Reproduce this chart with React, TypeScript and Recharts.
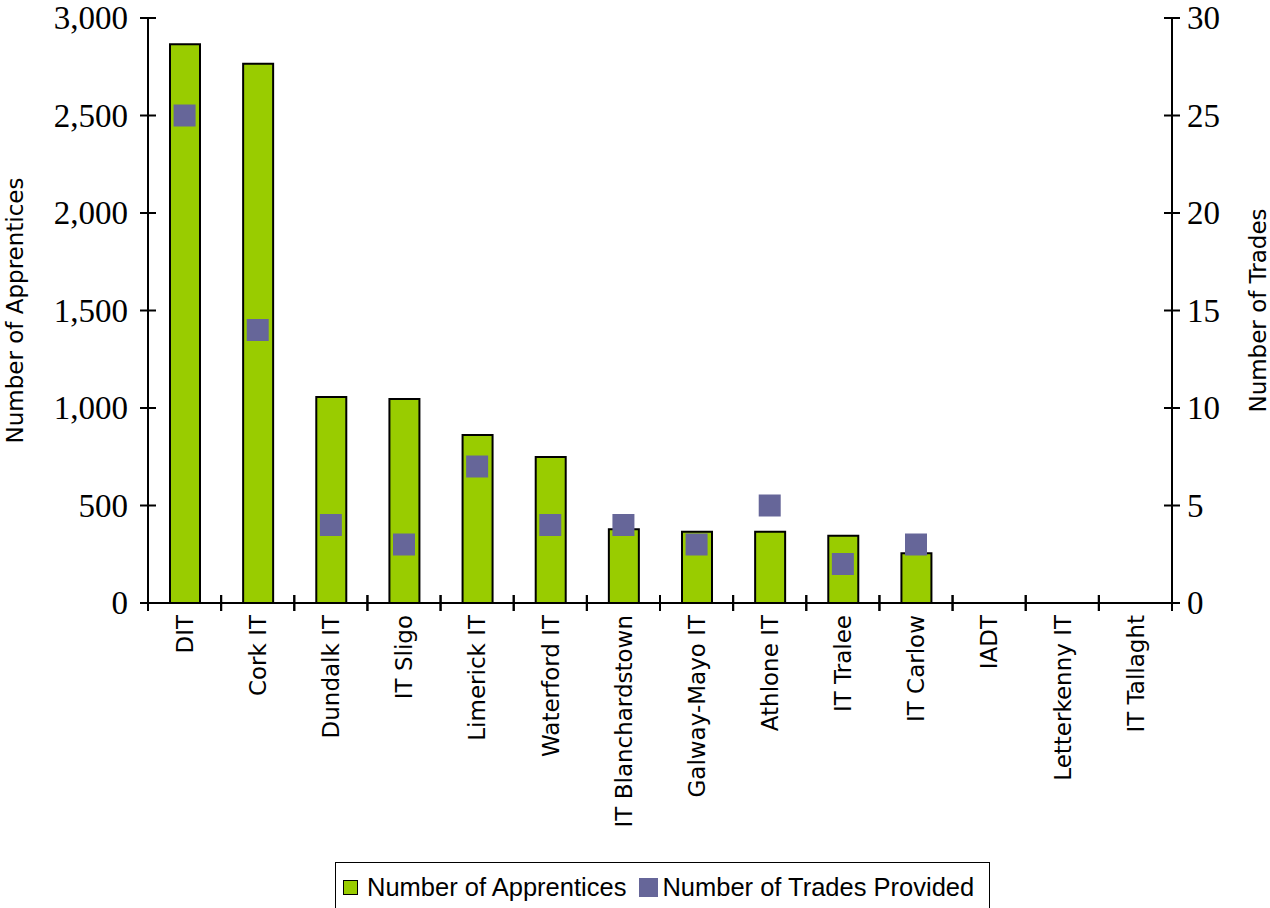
import React from 'react';
import { ComposedChart, Bar, Scatter, XAxis, YAxis, Legend, Label } from 'recharts';

const institutes = [
  'DIT', 'Cork IT', 'Dundalk IT', 'IT Sligo', 'Limerick IT', 'Waterford IT',
  'IT Blanchardstown', 'Galway-Mayo IT', 'Athlone IT', 'IT Tralee', 'IT Carlow',
  'IADT', 'Letterkenny IT', 'IT Tallaght',
];
const apprentices: (number | null)[] = [2865, 2765, 1056, 1046, 862, 749, 378, 366, 366, 345, 255, null, null, null];
const trades: (number | null)[] = [25, 14, 4, 3, 7, 4, 4, 3, 5, 2, 3, null, null, null];
const leftTicks = [0, 500, 1000, 1500, 2000, 2500, 3000];
const rightTicks = [0, 5, 10, 15, 20, 25, 30];

const data = institutes.map((name, i) => ({ name, apprentices: apprentices[i], trades: trades[i] }));

const GREEN = '#99CC00';
const PURPLE = '#666699';
const SERIF = '"Liberation Serif", "Times New Roman", serif';
const SANS = '"DejaVu Sans", Tahoma, sans-serif';
const LEGEND_FONT = '"Liberation Sans", Arial, sans-serif';

const LEFT_MARGIN = 20;
const RIGHT_MARGIN = 15;
const X_MARGIN = 12;

const fmt = (v: number) => v.toLocaleString('en-US');

const LeftTick = (props: any) => {
  const { x, y, payload } = props;
  const ax = x + LEFT_MARGIN;
  return (
    <g>
      <line x1={ax - 8} x2={ax + 8} y1={y} y2={y} stroke="#000" strokeWidth={2} />
      <text x={x} y={y} dy="0.34em" textAnchor="end" fontFamily={SERIF} fontSize={33} fill="#000">
        {fmt(payload.value)}
      </text>
    </g>
  );
};

const RightTick = (props: any) => {
  const { x, y, payload } = props;
  const ax = x - RIGHT_MARGIN;
  return (
    <g>
      <line x1={ax - 8} x2={ax + 8} y1={y} y2={y} stroke="#000" strokeWidth={2} />
      <text x={x} y={y} dy="0.34em" textAnchor="start" fontFamily={SERIF} fontSize={33} fill="#000">
        {fmt(payload.value)}
      </text>
    </g>
  );
};

const XTick = (props: any) => {
  const { x, y, payload } = props;
  const ay = y - X_MARGIN;
  const half = payload.offset || (props.width / props.visibleTicksCount / 2);
  return (
    <g>
      <line x1={x - half} x2={x - half} y1={ay - 8} y2={ay + 8} stroke="#000" strokeWidth={2} />
      <line x1={x + half} x2={x + half} y1={ay - 8} y2={ay + 8} stroke="#000" strokeWidth={2} />
      <text
        x={x}
        y={y}
        dy="0.36em"
        textAnchor="end"
        transform={`rotate(-90, ${x}, ${y})`}
        fontFamily={SANS}
        fontSize={23}
        fill="#000"
      >
        {payload.value}
      </text>
    </g>
  );
};

const SquareMarker = (props: any) => {
  const { cx, cy, payload } = props;
  if (payload == null || payload.trades == null || cx == null || cy == null) return <g />;
  return <rect x={cx - 11} y={cy - 11} width={22} height={22} fill={PURPLE} />;
};

const LeftAxisLabel = (props: any) => {
  const vb = props.viewBox;
  const cx = vb.x + 15;
  const cy = vb.y + vb.height / 2;
  return (
    <text x={cx} y={cy} dy="0.36em" textAnchor="middle" transform={`rotate(-90, ${cx}, ${cy})`} fontFamily={SANS} fontSize={23} fill="#000">
      Number of Apprentices
    </text>
  );
};

const RightAxisLabel = (props: any) => {
  const vb = props.viewBox;
  const cx = vb.x + vb.width - 12;
  const cy = vb.y + vb.height / 2;
  return (
    <text x={cx} y={cy} dy="0.36em" textAnchor="middle" transform={`rotate(-90, ${cx}, ${cy})`} fontFamily={SANS} fontSize={23} fill="#000">
      Number of Trades
    </text>
  );
};

const renderLegend = (props: any) => {
  const { payload } = props;
  return (
    <div
      style={{
        border: '1px solid #000',
        boxSizing: 'border-box',
        height: 50,
        width: 655,
        display: 'flex',
        alignItems: 'center',
        paddingLeft: 7,
        fontFamily: LEGEND_FONT,
        fontSize: 25.5,
        color: '#000',
        background: '#fff',
        whiteSpace: 'nowrap',
      }}
    >
      {(payload || []).map((entry: any, i: number) => (
        <div key={i} style={{ display: 'flex', alignItems: 'center', marginLeft: i === 0 ? 0 : 13 }}>
          {i === 0 ? (
            <span style={{ display: 'inline-block', width: 13, height: 13, background: entry.color, border: '1px solid #000', marginRight: 9 }} />
          ) : (
            <span style={{ display: 'inline-block', width: 19, height: 19, background: entry.color, marginRight: 4 }} />
          )}
          <span>{entry.value}</span>
        </div>
      ))}
    </div>
  );
};

export default function App() {
  return (
    <div style={{ position: 'absolute', left: 0, top: 0, width: 1270, height: 908, background: '#fff', overflow: 'hidden' }}>
      <ComposedChart width={1270} height={908} data={data} margin={{ top: 18, right: 0, bottom: 0, left: 0 }}>
        <XAxis
          dataKey="name"
          type="category"
          interval={0}
          height={305}
          tickSize={0}
          tickMargin={X_MARGIN}
          tick={<XTick />}
          axisLine={{ stroke: '#000', strokeWidth: 2 }}
          tickLine={false}
        />
        <YAxis
          yAxisId="left"
          orientation="left"
          width={148}
          domain={[0, 3000]}
          ticks={leftTicks}
          tickSize={0}
          tickMargin={LEFT_MARGIN}
          tick={<LeftTick />}
          tickLine={false}
          axisLine={{ stroke: '#000', strokeWidth: 2 }}
          interval={0}
        >
          <Label content={<LeftAxisLabel />} />
        </YAxis>
        <YAxis
          yAxisId="right"
          orientation="right"
          width={98}
          domain={[0, 30]}
          ticks={rightTicks}
          tickSize={0}
          tickMargin={RIGHT_MARGIN}
          tick={<RightTick />}
          tickLine={false}
          axisLine={{ stroke: '#000', strokeWidth: 2 }}
          interval={0}
        >
          <Label content={<RightAxisLabel />} />
        </YAxis>
        <Bar
          yAxisId="left"
          dataKey="apprentices"
          name="Number of Apprentices"
          fill={GREEN}
          stroke="#000"
          strokeWidth={2}
          barSize={30}
          isAnimationActive={false}
        />
        <Scatter
          yAxisId="right"
          dataKey="trades"
          name="Number of Trades Provided"
          fill={PURPLE}
          shape={<SquareMarker />}
          isAnimationActive={false}
        />
        <Legend
          layout="horizontal"
          verticalAlign="middle"
          content={renderLegend}
          wrapperStyle={{ left: 335, top: 862, width: 655, height: 50 }}
        />
      </ComposedChart>
    </div>
  );
}
